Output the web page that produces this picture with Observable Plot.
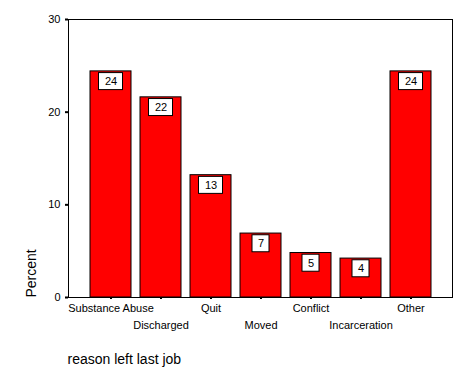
<!DOCTYPE html>
<html>
<head>
<meta charset="utf-8">
<script src="https://cdn.jsdelivr.net/npm/d3@7"></script>
<script src="https://cdn.jsdelivr.net/npm/@observablehq/plot@0.6"></script>
<style>
  html, body { margin: 0; padding: 0; background: #fff; }
  #chart svg { display: block; font-family: "Liberation Sans", Arial, sans-serif; color: #000; }
</style>
</head>
<body>
<div id="chart"></div>
<script>
const categories = ["Substance Abuse", "Discharged", "Quit", "Moved", "Conflict", "Incarceration", "Other"];
const percents = [24.4, 21.6, 13.2, 6.9, 4.8, 4.2, 24.4];
const yTicks = [0, 10, 20, 30];
const xTitle = "reason left last job";
const yTitle = "Percent";

const data = categories.map((c, i) => ({cat: c, v: percents[i], label: String(Math.round(percents[i]))}));
const oddCats = categories.filter((d, i) => i % 2 === 0);
const evenCats = categories.filter((d, i) => i % 2 === 1);

const pxPerUnit = (297 - 19) / 30;
const boxH = 17 / pxPerUnit;

const boxMark = (filter, inset) => Plot.barY(data.filter(filter), {
  x: "cat", y1: d => d.v - boxH, y2: "v", dy: 1.7,
  fill: "white", stroke: "black", strokeWidth: 1,
  insetLeft: inset, insetRight: inset
});

const chart = Plot.plot({
  width: 472,
  height: 377,
  marginLeft: 68,
  marginRight: 20,
  marginTop: 19,
  marginBottom: 80,
  style: {fontFamily: "'Liberation Sans', Arial, sans-serif", color: "black", background: "white"},
  x: {type: "band", domain: categories, paddingInner: 0.19, paddingOuter: 0.39},
  y: {domain: [0, 30]},
  marks: [
    Plot.barY(data, {x: "cat", y: "v", fill: "#ff0000", stroke: "black", strokeWidth: 1}),
    boxMark(d => d.label.length > 1, 8.5),
    boxMark(d => d.label.length === 1, 12),
    Plot.text(data, {x: "cat", y: "v", text: "label", dy: 10.3, lineAnchor: "middle", fontSize: 11, fill: "black"}),
    Plot.frame({stroke: "black", strokeWidth: 1}),
    Plot.axisY({ticks: yTicks, tickSize: 3, tickPadding: 5, strokeWidth: 2, fontSize: 11, label: null}),
    Plot.axisX({tickSize: 2, strokeWidth: 2, tickFormat: () => "", label: null}),
    Plot.axisX({ticks: oddCats, tickSize: 0, tickPadding: 7, fontSize: 11, label: null}),
    Plot.axisX({ticks: evenCats, tickSize: 0, tickPadding: 24, fontSize: 11, label: null}),
    Plot.text([yTitle], {frameAnchor: "bottom-left", rotate: -90, textAnchor: "start", lineAnchor: "bottom", dx: -33, fontSize: 14, fill: "black"}),
    Plot.text([xTitle], {frameAnchor: "bottom-left", textAnchor: "start", lineAnchor: "bottom", dx: -1, dy: 66, fontSize: 14, fill: "black"})
  ]
});
document.getElementById("chart").appendChild(chart);
</script>
</body>
</html>
